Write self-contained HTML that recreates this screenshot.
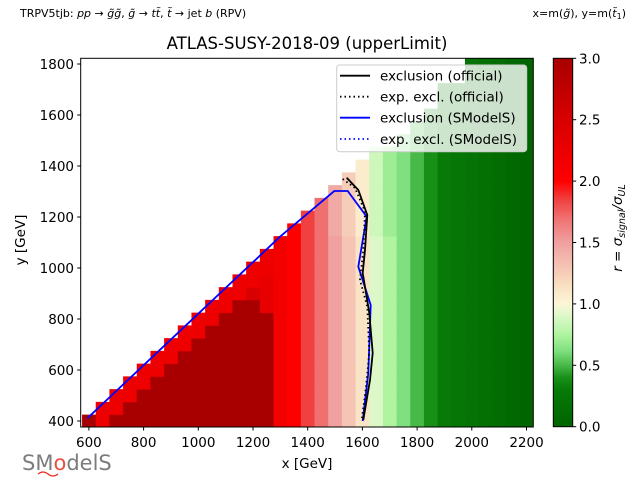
<!DOCTYPE html>
<html><head><meta charset="utf-8">
<style>
html,body{margin:0;padding:0;background:#fff;}
body{width:640px;height:480px;overflow:hidden;font-family:"DejaVu Sans","Liberation Sans",sans-serif;}
</style></head>
<body>
<svg id="s" width="640" height="480" xmlns="http://www.w3.org/2000/svg" font-family="DejaVu Sans, Liberation Sans, sans-serif">
<defs id="defs">
<clipPath id="cp"><rect x="80.7" y="58.3" width="452.6" height="368.7"/></clipPath>
<linearGradient id="cbg" x1="0" y1="0" x2="0" y2="1">
<stop offset="0" stop-color="#a80000"/>
<stop offset="0.1667" stop-color="#d80000"/>
<stop offset="0.3333" stop-color="#ff0000"/>
<stop offset="0.3833" stop-color="#f04040"/>
<stop offset="0.4333" stop-color="#f07070"/>
<stop offset="0.5" stop-color="#f0a0a0"/>
<stop offset="0.5667" stop-color="#f5c4b4"/>
<stop offset="0.6167" stop-color="#f8e0c0"/>
<stop offset="0.6667" stop-color="#fcf6d8"/>
<stop offset="0.7" stop-color="#dcf8c8"/>
<stop offset="0.75" stop-color="#b0f4a0"/>
<stop offset="0.7933" stop-color="#80e080"/>
<stop offset="0.8333" stop-color="#48b848"/>
<stop offset="0.8667" stop-color="#189018"/>
<stop offset="0.9" stop-color="#077a07"/>
<stop offset="1" stop-color="#006400"/>
</linearGradient>
</defs>
<g id="cells" clip-path="url(#cp)"></g>
<g clip-path="url(#cp)" fill="none" stroke-width="1.8">
<polyline stroke="#0000ff" points="87.3,418.3 280,236.7 334.3,191 347.7,191 366.7,216.7 358.3,266.7 370.7,305 368.3,373.3 362.7,421"/>
<polyline stroke="#000" points="346.7,177.7 358.3,190 367.3,215 365,250 362.7,273 369.3,313 372.7,353 370,380 363.3,420"/>
<polyline stroke="#000" stroke-dasharray="1.5,3" points="342.7,179 355,188 365,211.7 363.3,250 360,280 367.3,306.7 369.3,353 366,386.7 361.7,420"/>
</g>
<rect x="80.7" y="58.3" width="452.6" height="368.7" fill="none" stroke="#000" stroke-width="1"/>
<rect x="336.7" y="65" width="190" height="86.7" rx="3" fill="#fff" fill-opacity="0.8" stroke="#ccc" stroke-width="1"/>
<g stroke-width="1.8">
<line x1="340" y1="75.7" x2="370" y2="75.7" stroke="#000"/>
<line x1="340" y1="96.7" x2="370" y2="96.7" stroke="#000" stroke-dasharray="1.5,3"/>
<line x1="340" y1="117.7" x2="370" y2="117.7" stroke="#0000ff"/>
<line x1="340" y1="139" x2="370" y2="139" stroke="#0000ff" stroke-dasharray="1.5,3"/>
</g>
<g font-size="13.5" fill="#000">
<text x="380" y="80.5">exclusion (official)</text>
<text x="380" y="101.5">exp. excl. (official)</text>
<text x="380" y="122.5">exclusion (SModelS)</text>
<text x="380" y="144">exp. excl. (SModelS)</text>
</g>
<g id="ticks" font-size="13.5" fill="#000"></g>
<rect x="553.3" y="58.3" width="19.4" height="368.4" fill="url(#cbg)" stroke="#000" stroke-width="1"/>
<text x="307" y="49" font-size="16.5" text-anchor="middle">ATLAS-SUSY-2018-09 (upperLimit)</text>
<text x="20" y="17" font-size="11">TRPV5tjb: <tspan font-style="italic">pp</tspan> → <tspan font-style="italic">g̃g̃</tspan>, <tspan font-style="italic">g̃</tspan> → <tspan font-style="italic">tt̃</tspan>, <tspan font-style="italic">t̃</tspan> → jet <tspan font-style="italic">b</tspan> (RPV)</text>
<text x="626" y="17" font-size="11" text-anchor="end">x=m(<tspan font-style="italic">g̃</tspan>), y=m(<tspan font-style="italic">t̃</tspan><tspan font-size="8" dy="2">1</tspan><tspan dy="-2">)</tspan></text>
<text x="307" y="468" font-size="13.5" text-anchor="middle">x [GeV]</text>
<text transform="translate(25,240) rotate(-90)" font-size="13.5" text-anchor="middle">y [GeV]</text>
<text transform="translate(622,228) rotate(-90)" font-size="13.5" text-anchor="middle"><tspan font-style="italic">r</tspan> = <tspan font-style="italic">σ</tspan><tspan font-size="9.5" font-style="italic" dy="3">signal</tspan><tspan dy="-3" font-style="italic">/σ</tspan><tspan font-size="9.5" font-style="italic" dy="3">UL</tspan></text>
<text x="22" y="470" font-size="21" fill="#666" opacity="0.85">SM<tspan fill="#e83020">o</tspan>delS</text>
<path d="M38 474 q5 -4 10 0 q5 4 10 0" stroke="#e83020" fill="none" stroke-width="1.2"/>
</svg>
<script>
(function(){
var NS="http://www.w3.org/2000/svg";
var stops=[[0,"#006400"],[0.3,"#077a07"],[0.4,"#189018"],[0.5,"#48b848"],[0.62,"#80e080"],[0.75,"#b0f4a0"],[0.9,"#dcf8c8"],[1.0,"#fcf6d8"],[1.15,"#f8e0c0"],[1.3,"#f5c4b4"],[1.5,"#f0a0a0"],[1.7,"#f07070"],[1.85,"#f04040"],[2.0,"#ff0000"],[2.5,"#d80000"],[3.0,"#a80000"]];
function hx(c){return [parseInt(c.substr(1,2),16),parseInt(c.substr(3,2),16),parseInt(c.substr(5,2),16)];}
function cmap(r){if(r<=0)return stops[0][1];if(r>=3)return stops[stops.length-1][1];
for(var i=1;i<stops.length;i++){if(r<=stops[i][0]){var a=stops[i-1],b=stops[i],t=(r-a[0])/(b[0]-a[0]);var A=hx(a[1]),B=hx(b[1]);
return "rgb("+Math.round(A[0]+(B[0]-A[0])*t)+","+Math.round(A[1]+(B[1]-A[1])*t)+","+Math.round(A[2]+(B[2]-A[2])*t)+")";}}return stops[stops.length-1][1];}
function px(x){return 88.9+(x-600)*0.2735;}
function py(y){return 421-(y-400)*0.255;}
var colr={1300:2.15,1350:2.0,1400:1.85,1450:1.7,1500:1.5,1550:1.3,1600:1.12,1650:0.9,1700:0.75,1750:0.62,1800:0.5,1850:0.4,1900:0.3};
function top(x){if(x<=1650)return x-200;if(x==1700)return 1450;if(x==1750)return 1500;if(x==1800)return 1550;if(x==1850)return 1600;if(x<=1950)return 1700;return 1850;}
function rv(x,y){
 if(x>1900)return Math.max(0.02,0.3-(x-1900)/300*0.28);
 if(colr[x]!==undefined){var r=colr[x];if(x>=1500&&x<=1700&&y>1100)r-=0.05;return r;}
 var d=(x-200)-y;
 if(x==600)return 3;
 if(d<100)return 2.2;
 if(x==1250&&y>=850)return 2.3;
 if(x==1200&&y>=900)return 2.5;
 return 3;}
function el(tag,attrs,parent,txt){var e=document.createElementNS(NS,tag);for(var k in attrs)e.setAttribute(k,attrs[k]);if(txt!==undefined)e.textContent=txt;parent.appendChild(e);return e;}
var g=document.getElementById("cells");
for(var x=600;x<=2200;x+=50){var t=top(x);for(var y=400;y<=t;y+=50){
 var x0=px(x-25),x1=px(x+25),y0=py(y+25),y1=py(y-25);
 el("rect",{x:x0.toFixed(2),y:y0.toFixed(2),width:(x1-x0+0.4).toFixed(2),height:(y1-y0+0.4).toFixed(2),fill:cmap(rv(x,y))},g);}}
var tk=document.getElementById("ticks");
for(var v=600;v<=2200;v+=200){var X=px(v);el("line",{x1:X,y1:427,x2:X,y2:430.5,stroke:"#000"},tk);el("text",{x:X,y:447,"text-anchor":"middle"},tk,String(v));}
for(var v=400;v<=1800;v+=200){var Y=py(v);el("line",{x1:77.2,y1:Y,x2:80.7,y2:Y,stroke:"#000"},tk);el("text",{x:74,y:Y+5,"text-anchor":"end"},tk,String(v));}
var cv=["0.0","0.5","1.0","1.5","2.0","2.5","3.0"];
for(var i=0;i<7;i++){var Y=426.7-i*368.4/6;el("line",{x1:572.7,y1:Y,x2:576.2,y2:Y,stroke:"#000"},tk);el("text",{x:579,y:Y+5},tk,cv[i]);}
})();
</script>
</body></html>
